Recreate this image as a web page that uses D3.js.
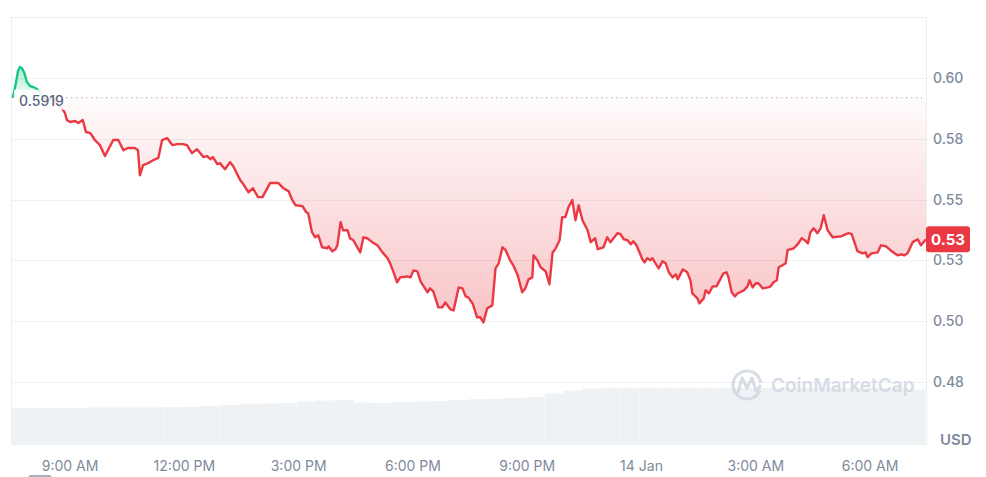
<!DOCTYPE html>
<html><head><meta charset="utf-8">
<script src="https://cdn.jsdelivr.net/npm/d3@7"></script>
<style>
html,body{margin:0;padding:0;background:#fff;}
svg{display:block;font-family:Inter,"Noto Sans",sans-serif;}
</style></head><body>
<svg id="chart" width="986" height="477"></svg>
<script>
// ---- data (minutes after 00:00, 13 Jan) ----
const priceMinutes = [450,455,458,461,464,468,472,477,482,488,494,501,507,512,516,523,527,532,535,540,548,553,560,565,572,579,587,595,603,608,616,624,631,642,647,650,655,663,671,679,685,693,701,709,718,724,732,740,750,756,761,765,772,776,784,792,797,808,813,821,828,836,843,855,863,868,876,884,890,895,906,912,915,921,926,931,937,945,947,953,958,961,966,970,977,981,986,997,1002,1008,1016,1024,1032,1040,1044,1049,1055,1060,1071,1076,1081,1087,1092,1096,1103,1107,1112,1120,1126,1131,1139,1144,1152,1158,1163,1167,1174,1181,1186,1191,1197,1205,1210,1215,1221,1226,1233,1238,1245,1252,1257,1262,1268,1270,1276,1281,1289,1295,1300,1304,1311,1315,1320,1325,1331,1336,1341,1347,1355,1360,1367,1371,1380,1386,1391,1402,1407,1412,1418,1423,1427,1432,1442,1445,1449,1454,1457,1462,1467,1473,1478,1483,1489,1494,1497,1505,1512,1517,1520,1528,1531,1538,1541,1546,1552,1558,1564,1569,1574,1577,1582,1587,1591,1601,1607,1610,1615,1620,1624,1631,1639,1643,1648,1653,1656,1662,1667,1670,1680,1687,1692,1697,1702,1706,1711,1717,1722,1727,1733,1741,1754,1766,1771,1780,1788,1793,1796,1802,1812,1817,1825,1832,1843,1850,1854,1859,1867,1875,1880,1888];
const prices = [0.5919,0.5984,0.6029,0.6045,0.6041,0.6021,0.5984,0.5967,0.5963,0.5955,0.5938,0.5913,0.5909,0.5926,0.5905,0.5885,0.5877,0.5856,0.5827,0.5819,0.5823,0.5815,0.5827,0.5778,0.5773,0.5745,0.5724,0.5679,0.5720,0.5745,0.5745,0.5703,0.5712,0.5712,0.5703,0.5600,0.5642,0.5650,0.5662,0.5671,0.5745,0.5753,0.5724,0.5728,0.5728,0.5724,0.5691,0.5707,0.5675,0.5679,0.5666,0.5675,0.5646,0.5650,0.5625,0.5654,0.5637,0.5580,0.5563,0.5530,0.5547,0.5510,0.5510,0.5568,0.5568,0.5568,0.5547,0.5535,0.5498,0.5477,0.5473,0.5448,0.5444,0.5366,0.5345,0.5353,0.5304,0.5300,0.5308,0.5288,0.5296,0.5312,0.5407,0.5374,0.5374,0.5341,0.5333,0.5283,0.5345,0.5341,0.5325,0.5312,0.5283,0.5259,0.5238,0.5205,0.5160,0.5180,0.5184,0.5180,0.5209,0.5205,0.5164,0.5147,0.5119,0.5135,0.5123,0.5057,0.5057,0.5077,0.5049,0.5044,0.5139,0.5135,0.5102,0.5098,0.5073,0.5016,0.5016,0.4995,0.5053,0.5065,0.5217,0.5238,0.5304,0.5292,0.5251,0.5230,0.5189,0.5119,0.5135,0.5172,0.5180,0.5271,0.5251,0.5222,0.5205,0.5152,0.5283,0.5296,0.5333,0.5428,0.5428,0.5469,0.5498,0.5415,0.5477,0.5415,0.5374,0.5325,0.5341,0.5296,0.5304,0.5345,0.5325,0.5362,0.5358,0.5337,0.5333,0.5316,0.5329,0.5312,0.5251,0.5242,0.5259,0.5251,0.5259,0.5238,0.5217,0.5246,0.5238,0.5201,0.5180,0.5193,0.5172,0.5213,0.5201,0.5168,0.5114,0.5094,0.5073,0.5094,0.5127,0.5114,0.5143,0.5143,0.5172,0.5197,0.5201,0.5180,0.5119,0.5102,0.5114,0.5127,0.5143,0.5168,0.5139,0.5156,0.5156,0.5135,0.5139,0.5143,0.5160,0.5168,0.5222,0.5230,0.5238,0.5292,0.5300,0.5320,0.5341,0.5333,0.5320,0.5366,0.5382,0.5362,0.5382,0.5436,0.5374,0.5345,0.5349,0.5362,0.5358,0.5288,0.5279,0.5283,0.5263,0.5279,0.5283,0.5312,0.5308,0.5292,0.5271,0.5275,0.5271,0.5279,0.5325,0.5337,0.5312,0.5337];
const baselinePrice = 0.5919;
const baselineLabel = "0.5919";
const lastPriceLabel = "0.53";
const yTickValues = [0.475, 0.5, 0.525, 0.55, 0.575, 0.6];
const yTickLabels = ["0.48", "0.50", "0.53", "0.55", "0.58", "0.60"];
const xTickMinutes = [540, 720, 900, 1080, 1260, 1440, 1620, 1800];
const xTickLabels = ["9:00 AM", "12:00 PM", "3:00 PM", "6:00 PM", "9:00 PM", "14 Jan", "3:00 AM", "6:00 AM"];
const volumeMinutes = [447,477,507,537,567,597,627,657,687,717,747,777,807,837,867,897,927,957,987,1017,1047,1077,1107,1137,1167,1197,1227,1257,1287,1317,1347,1377,1407,1437,1467,1497,1527,1557,1587,1617,1647,1677,1707,1737,1767,1797,1827,1857];
const volumes = [370,370,372,372,375,375,376,376,378,380,390,400,410,415,420,435,445,450,425,420,430,435,440,450,458,462,470,478,515,545,565,570,570,570,570,570,570,570,570,570,570,570,570,570,570,570,570,555];
const volumeStep = 30;
const domainMinutes = [447, 1888];
const unitLabel = "USD";
const watermark = "CoinMarketCap";

// ---- setup ----
const day0 = new Date(2025, 0, 13);
const toDate = m => new Date(day0.getTime() + m * 60000);
const n = Math.min(priceMinutes.length, prices.length);
const series = d3.range(n).map(i => ({t: toDate(priceMinutes[i]), v: prices[i]}));

const L = 11, R = 926, TOP = 17, BOT = 445;
const RED = "#ea3943", GREEN = "#16c784", GRAY = "#808a9d";

const svg = d3.select("#chart");
const x = d3.scaleTime().domain(domainMinutes.map(toDate)).range([L, R]);
const y = d3.scaleLinear().domain([0.475, 0.6]).range([382, 78]);
const yv = d3.scaleLinear().domain([0, 570]).range([BOT, 388]);
const yBase = y(baselinePrice);

const defs = svg.append("defs");
const gRed = defs.append("linearGradient").attr("id", "gRed")
  .attr("gradientUnits", "userSpaceOnUse").attr("x1", 0).attr("x2", 0)
  .attr("y1", yBase).attr("y2", y(d3.min(prices)));
gRed.append("stop").attr("offset", 0).attr("stop-color", RED).attr("stop-opacity", 0.02);
gRed.append("stop").attr("offset", 1).attr("stop-color", RED).attr("stop-opacity", 0.3);
const gGreen = defs.append("linearGradient").attr("id", "gGreen")
  .attr("gradientUnits", "userSpaceOnUse").attr("x1", 0).attr("x2", 0)
  .attr("y1", y(d3.max(prices))).attr("y2", yBase);
gGreen.append("stop").attr("offset", 0).attr("stop-color", GREEN).attr("stop-opacity", 0.35);
gGreen.append("stop").attr("offset", 1).attr("stop-color", GREEN).attr("stop-opacity", 0.05);
defs.append("clipPath").attr("id", "above").append("rect")
  .attr("x", 0).attr("y", 0).attr("width", 986).attr("height", yBase);
defs.append("clipPath").attr("id", "below").append("rect")
  .attr("x", 0).attr("y", yBase).attr("width", 986).attr("height", 477 - yBase);

// frame
const frame = svg.append("g").attr("stroke", "#eceff2").attr("stroke-width", 1);
frame.append("line").attr("x1", L).attr("x2", R).attr("y1", TOP + 0.5).attr("y2", TOP + 0.5);
frame.append("line").attr("x1", L + 0.5).attr("x2", L + 0.5).attr("y1", TOP).attr("y2", BOT);
frame.append("line").attr("x1", R + 0.5).attr("x2", R + 0.5).attr("y1", TOP).attr("y2", BOT);

// grid
svg.append("g").selectAll("line").data(yTickValues).join("line")
  .attr("x1", L).attr("x2", R)
  .attr("y1", d => Math.round(y(d)) + 0.5).attr("y2", d => Math.round(y(d)) + 0.5)
  .attr("stroke", "#eef0f3");

// volume bars
svg.append("g").selectAll("rect").data(volumes).join("rect")
  .attr("x", (d, i) => x(toDate(volumeMinutes[i])))
  .attr("width", (d, i) => x(toDate(volumeMinutes[i] + volumeStep)) - x(toDate(volumeMinutes[i])))
  .attr("y", d => yv(d)).attr("height", d => BOT - yv(d))
  .attr("fill", "#eff2f5");

// watermark
const wm = svg.append("g").attr("opacity", 0.9);
wm.append("path")
  .attr("d", d3.arc().innerRadius(12.5).outerRadius(15.5).startAngle(Math.PI * 0.62).endAngle(Math.PI * 2.45)())
  .attr("transform", "translate(747,385)").attr("fill", "#d3d9e3");
wm.append("path").attr("d", "M738,392 L742,378 L747,388 L752,378 L756,391 L760,386")
  .attr("fill", "none").attr("stroke", "#d3d9e3").attr("stroke-width", 3)
  .attr("stroke-linejoin", "round").attr("stroke-linecap", "round");
wm.append("text").attr("x", 771).attr("y", 392).attr("font-size", 19).attr("font-weight", 600)
  .attr("fill", "#d3d9e3").text(watermark);

// areas
const area = d3.area().x(d => x(d.t)).y0(yBase).y1(d => y(d.v));
svg.append("path").datum(series).attr("d", area).attr("fill", "url(#gRed)").attr("clip-path", "url(#below)");
svg.append("path").datum(series).attr("d", area).attr("fill", "url(#gGreen)").attr("clip-path", "url(#above)");

// baseline
svg.append("line").attr("x1", L).attr("x2", R - 4).attr("y1", yBase).attr("y2", yBase)
  .attr("stroke", "#a6b0c3").attr("stroke-width", 1).attr("stroke-dasharray", "1.5,3.5");

// lines
const line = d3.line().x(d => x(d.t)).y(d => y(d.v));
svg.append("path").datum(series).attr("d", line).attr("fill", "none").attr("stroke", RED)
  .attr("stroke-width", 2.4).attr("stroke-linejoin", "round").attr("clip-path", "url(#below)");
svg.append("path").datum(series).attr("d", line).attr("fill", "none").attr("stroke", GREEN)
  .attr("stroke-width", 2.4).attr("stroke-linejoin", "round").attr("clip-path", "url(#above)");

// baseline label
svg.append("rect").attr("x", 14).attr("y", yBase - 8).attr("width", 51).attr("height", 20)
  .attr("fill", "#fff").attr("opacity", 0.85);
svg.append("text").attr("x", 19).attr("y", yBase + 8).attr("font-size", 14).attr("font-weight", 500)
  .attr("fill", "#58667e").text(baselineLabel);

// y axis labels
svg.append("g").selectAll("text").data(yTickValues).join("text")
  .attr("x", 933).attr("y", d => y(d)).attr("dy", "0.35em")
  .attr("font-size", 14).attr("font-weight", 500).attr("fill", GRAY)
  .text((d, i) => yTickLabels[i]);

// x axis labels
svg.append("g").selectAll("text").data(xTickMinutes).join("text")
  .attr("x", d => x(toDate(d))).attr("y", 466).attr("dy", "0.35em").attr("text-anchor", "middle")
  .attr("font-size", 14).attr("fill", GRAY)
  .text((d, i) => xTickLabels[i]);

// unit
svg.append("text").attr("x", 940).attr("y", 445).attr("font-size", 15).attr("font-weight", 600)
  .attr("fill", GRAY).text(unitLabel);

// last price tag
const lastY = y(prices[n - 1]);
svg.append("rect").attr("x", 926).attr("y", lastY - 13).attr("width", 44).attr("height", 26)
  .attr("rx", 3).attr("fill", RED);
svg.append("text").attr("x", 948).attr("y", lastY).attr("dy", "0.36em").attr("text-anchor", "middle")
  .attr("font-size", 15).attr("font-weight", 700).attr("fill", "#fff").text(lastPriceLabel);

// small scroll handle at bottom left
svg.append("rect").attr("x", 28).attr("y", 475).attr("width", 24).attr("height", 6).attr("rx", 3)
  .attr("fill", "#a6b0c3");
</script>
</body></html>
